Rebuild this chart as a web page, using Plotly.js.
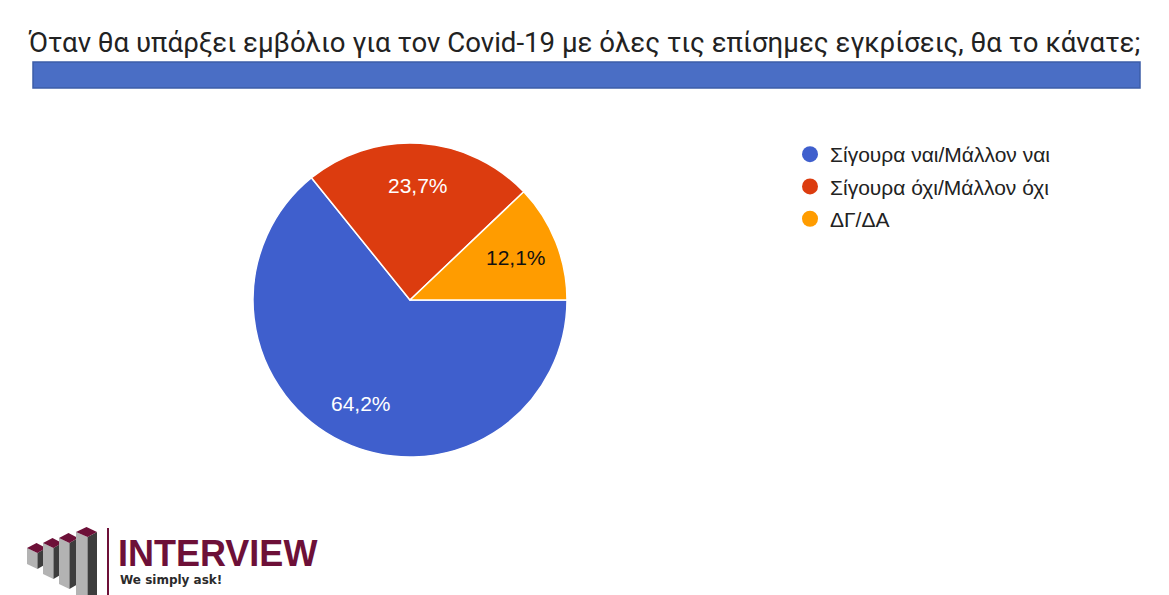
<!DOCTYPE html>
<html>
<head>
<meta charset="utf-8">
<script src="https://cdn.plot.ly/plotly-3.0.1.min.js"></script>
<style>html,body{margin:0;padding:0;background:#fff;}#chart{width:1169px;height:595px;}</style>
</head>
<body>
<div id="chart"></div>
<script>
// ---- data ----
const titleText = "Όταν θα υπάρξει εμβόλιο για τον Covid-19 με όλες τις επίσημες εγκρίσεις, θα το κάνατε;";
const categories = ["Σίγουρα ναι/Μάλλον ναι", "Σίγουρα όχι/Μάλλον όχι", "ΔΓ/ΔΑ"];
const shares = [64.2, 23.7, 12.1];
const sliceColors = ["#3f5fcd", "#dc3c0f", "#ff9c00"];
const labelColors = ["#ffffff", "#ffffff", "#111111"];

const W = 1169, H = 595;
const px = x => x / W;
const py = y => 1 - y / H;

// pie geometry (pixels)
const cx = 410, cy = 300, r = 157;
const labelFont = "Liberation Sans, Arial, sans-serif";

const traces = [{
  type: "pie",
  labels: categories,
  values: shares,
  sort: false,
  direction: "clockwise",
  rotation: 90,
  marker: {colors: sliceColors, line: {color: "#ffffff", width: 1.5}},
  textinfo: "none",
  hoverinfo: "label+percent",
  showlegend: false,
  domain: {x: [px(cx - r), px(cx + r)], y: [py(cy + r), py(cy - r)]}
}];

// legend entries with round markers
categories.forEach((c, i) => {
  traces.push({
    type: "scatter", mode: "markers", x: [null], y: [null],
    name: c, legendgroup: "g" + i,
    marker: {symbol: "circle", size: 16, color: sliceColors[i]},
    showlegend: true, hoverinfo: "skip"
  });
});

// slice percentage labels, placed at each slice's mid-angle (computed from the data)
const total = shares.reduce((a, b) => a + b, 0);
const annotations = [];
let cum = 0;
shares.forEach((v, i) => {
  const midFrac = (cum + v / 2) / total;
  cum += v;
  const ang = -midFrac * 2 * Math.PI; // clockwise from 3 o'clock
  const lr = 0.73 * r;
  const x = cx + lr * Math.cos(ang);
  const y = cy - lr * Math.sin(ang);
  annotations.push({
    text: v.toFixed(1).replace(".", ",") + "%",
    xref: "paper", yref: "paper", x: px(x), y: py(y),
    xanchor: "center", yanchor: "middle", showarrow: false,
    font: {family: labelFont, size: 21, color: labelColors[i]}
  });
});

// decorations
const shapes = [];
shapes.push({type: "rect", xref: "paper", yref: "paper",
  x0: px(33), x1: px(1140), y0: py(88), y1: py(62),
  fillcolor: "#4a6ec5", line: {color: "#3d5da8", width: 1.5}, layer: "below"});

const maroon = "#6d1038";
function column(L, Wd, ty, by) {
  const m = L + Wd * 0.55;
  const top = `M ${px(L)} ${py(ty + 5)} L ${px(L + Wd * 0.5)} ${py(ty)} L ${px(L + Wd)} ${py(ty + 5)} L ${px(m)} ${py(ty + 10)} Z`;
  const left = `M ${px(L)} ${py(ty + 5)} L ${px(m)} ${py(ty + 10)} L ${px(m)} ${py(by)} L ${px(L)} ${py(by - 5)} Z`;
  const right = `M ${px(m)} ${py(ty + 10)} L ${px(L + Wd)} ${py(ty + 5)} L ${px(L + Wd)} ${py(by - 5)} L ${px(m)} ${py(by)} Z`;
  shapes.push({type: "path", xref: "paper", yref: "paper", path: left, fillcolor: "#b3b3b3", line: {width: 0}});
  shapes.push({type: "path", xref: "paper", yref: "paper", path: right, fillcolor: "#3d3d3d", line: {width: 0}});
  shapes.push({type: "path", xref: "paper", yref: "paper", path: top, fillcolor: maroon, line: {width: 0}});
}
column(27, 19, 543, 569);
column(43, 19, 538, 579);
column(59, 19, 533, 589);
column(76, 21, 527, 600);
shapes.push({type: "line", xref: "paper", yref: "paper",
  x0: px(108), x1: px(108), y0: py(528), y1: py(595), line: {color: maroon, width: 2}});

annotations.push(
  {text: "<b>INTERVIEW</b>", xref: "paper", yref: "paper", x: px(116), y: py(553),
   xanchor: "left", yanchor: "middle", showarrow: false,
   font: {family: "Liberation Sans, Arial, sans-serif", size: 36, color: maroon}},
  {text: "<b>We simply ask!</b>", xref: "paper", yref: "paper", x: px(118), y: py(580),
   xanchor: "left", yanchor: "middle", showarrow: false,
   font: {family: "DejaVu Sans, sans-serif", size: 12, color: "#2b2b2b"}}
);

const layout = {
  width: W, height: H,
  margin: {l: 0, r: 0, t: 0, b: 0},
  paper_bgcolor: "#ffffff", plot_bgcolor: "#ffffff",
  title: {text: titleText, x: 0.5, xanchor: "center", xref: "paper",
    y: py(42), yanchor: "middle", yref: "paper",
    font: {family: "Roboto, sans-serif", size: 27.6, color: "#222222"}},
  xaxis: {visible: false, domain: [0.9, 0.91]},
  yaxis: {visible: false, domain: [0.9, 0.91]},
  showlegend: true,
  legend: {x: px(790), y: py(134), xanchor: "left", yanchor: "top",
    font: {family: labelFont, size: 21, color: "#222222"},
    traceorder: "grouped", tracegroupgap: 2, bgcolor: "rgba(0,0,0,0)"},
  shapes: shapes,
  annotations: annotations
};

Plotly.newPlot("chart", traces, layout, {displayModeBar: false, staticPlot: true});
</script>
</body>
</html>
